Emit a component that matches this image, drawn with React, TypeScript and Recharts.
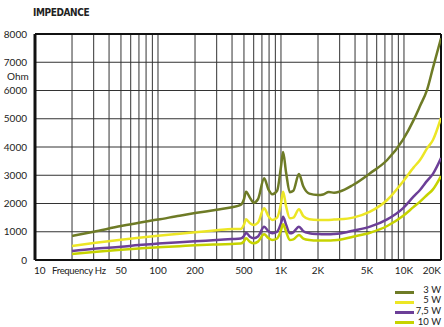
import React from "react";
import {
  LineChart,
  Line,
  XAxis,
  YAxis,
  CartesianGrid,
  ReferenceLine,
} from "recharts";

// frequency points (Hz) the curves were read at
const FREQ = [
  20, 30, 50, 70, 100, 150, 200, 300, 400, 470, 500, 520, 560, 600, 650, 730,
  790, 850, 930, 1000, 1040, 1100, 1180, 1260, 1400, 1520, 1700, 2000, 2200,
  2450, 2700, 3000, 3850, 5300, 7300, 9800, 12000, 13500, 15400, 17200, 20000,
];

// impedance in Ohm per power setting
const W3 = [
  850, 1000, 1200, 1320, 1430, 1570, 1660, 1780, 1870, 1950, 2150, 2420, 2200,
  2030, 2150, 2890, 2500, 2330, 2450, 3300, 3820, 3100, 2400, 2450, 3040, 2600,
  2350, 2300, 2320, 2410, 2380, 2420, 2655, 3070, 3540, 4250, 4960, 5450, 6020,
  6800, 7850,
];
const W5 = [
  496, 600, 720, 790, 860, 930, 980, 1050, 1100, 1100, 1250, 1440, 1300, 1240,
  1320, 1830, 1550, 1420, 1500, 2000, 2420, 1900, 1480, 1500, 1800, 1550, 1440,
  1416, 1416, 1420, 1430, 1440, 1500, 1710, 2124, 2773, 3280, 3540, 3950, 4250,
  5030,
];
const W75 = [
  318, 400, 470, 530, 580, 630, 660, 710, 740, 760, 850, 967, 820, 767, 830,
  1180, 1020, 944, 1000, 1300, 1533, 1250, 944, 980, 1180, 1020, 950, 920, 910,
  910, 920, 940, 1038, 1180, 1440, 1830, 2250, 2478, 2800, 3050, 3610,
];
const W10 = [
  212, 280, 360, 410, 450, 490, 520, 550, 570, 580, 660, 767, 640, 590, 650,
  908, 780, 708, 760, 1050, 1262, 1000, 708, 730, 885, 760, 708, 690, 690, 690,
  700, 720, 826, 967, 1204, 1558, 1880, 2065, 2300, 2500, 2970,
];

const GRID_X = [
  10, 20, 30, 40, 50, 60, 70, 80, 90, 100, 200, 300, 400, 500, 600, 700, 800,
  900, 1000, 2000, 3000, 4000, 5000, 6000, 7000, 8000, 9000, 10000, 20000,
];
const X_LABELS: Record<number, string> = {
  10: "10",
  50: "50",
  100: "100",
  200: "200",
  500: "500",
  1000: "1K",
  2000: "2K",
  5000: "5K",
  10000: "10K",
  20000: "20K",
};
const Y_TICKS = [0, 1000, 2000, 3000, 4000, 5000, 6000, 7000, 8000];

const SERIES = [
  { key: "w3", name: "3 W", color: "#6e7b26" },
  { key: "w5", name: "5 W", color: "#ece625" },
  { key: "w75", name: "7,5 W", color: "#6c3f98" },
  { key: "w10", name: "10 W", color: "#c6d300" },
];

const data = FREQ.map((f, i) => ({
  f,
  w3: W3[i],
  w5: W5[i],
  w75: W75[i],
  w10: W10[i],
}));

const FONT = "Lato, 'Open Sans', sans-serif";

const XTick = ({ x, y, payload }: any) => {
  const label = X_LABELS[payload.value];
  if (!label) return null;
  let anchor: "start" | "middle" | "end" = "middle";
  let dx = 0;
  if (payload.value === 10) {
    anchor = "start";
    dx = -1;
  }
  if (payload.value === 20000) anchor = "end";
  return (
    <g>
      <text
        x={x + dx}
        y={y + 14}
        textAnchor={anchor}
        fontSize={10}
        fontFamily={FONT}
        fill="#222"
      >
        {label}
      </text>
      {payload.value === 10 && (
        <text
          x={x + 17}
          y={y + 14}
          textAnchor="start"
          fontSize={9.5}
          letterSpacing={-0.3}
          fontFamily={FONT}
          fill="#222"
        >
          Frequency Hz
        </text>
      )}
    </g>
  );
};

export default function App() {
  return (
    <div
      style={{
        position: "absolute",
        left: 0,
        top: 0,
        width: 444,
        height: 327,
        background: "#fff",
        fontFamily: FONT,
      }}
    >
      <LineChart
        width={444}
        height={327}
        data={data}
        margin={{ top: 34, right: 3, left: 0, bottom: 0 }}
      >
        <CartesianGrid stroke="#333" strokeWidth={1} />
        <XAxis
          dataKey="f"
          type="number"
          scale="log"
          domain={[10, 20000]}
          ticks={GRID_X}
          interval={0}
          allowDataOverflow
          height={67}
          tickLine={false}
          tickSize={0}
          tickMargin={0}
          axisLine={{ stroke: "#111", strokeWidth: 2 }}
          tick={<XTick />}
        />
        <YAxis
          type="number"
          domain={[0, 8000]}
          ticks={Y_TICKS}
          interval={0}
          width={35}
          tickLine={false}
          tickSize={0}
          tickMargin={8}
          axisLine={{ stroke: "#111", strokeWidth: 3 }}
          tick={{ fontSize: 10, fill: "#222", fontFamily: FONT }}
        />
        <ReferenceLine y={8000} stroke="#111" strokeWidth={2} />
        <ReferenceLine x={20000} stroke="#111" strokeWidth={2} />
        {SERIES.map((s) => (
          <Line
            key={s.key}
            dataKey={s.key}
            name={s.name}
            type="monotone"
            stroke={s.color}
            strokeWidth={2.5}
            dot={false}
            activeDot={false}
            isAnimationActive={false}
          />
        ))}
      </LineChart>

      <div
        style={{
          position: "absolute",
          left: 33,
          top: 7,
          fontFamily: "'Liberation Sans Narrow', 'DejaVu Sans Condensed', sans-serif",
          fontWeight: 700,
          fontSize: 10,
          letterSpacing: -0.4,
          color: "#222",
        }}
      >
        IMPEDANCE
      </div>
      <div
        style={{
          position: "absolute",
          left: 7,
          top: 70,
          fontSize: 10,
          color: "#222",
        }}
      >
        Ohm
      </div>

      {SERIES.map((s, i) => {
        const lineY = [292, 302, 312, 322][i];
        const textY = [289, 299.5, 310, 321][i];
        return (
          <React.Fragment key={s.key}>
            <div
              style={{
                position: "absolute",
                left: 395,
                top: lineY - 1,
                width: 19,
                height: 2.5,
                background: s.color,
              }}
            />
            <div
              style={{
                position: "absolute",
                right: 3,
                top: textY - 4.5,
                fontSize: 9.5,
                lineHeight: "9px",
                color: "#222",
                textAlign: "right",
              }}
            >
              {s.name}
            </div>
          </React.Fragment>
        );
      })}
    </div>
  );
}
